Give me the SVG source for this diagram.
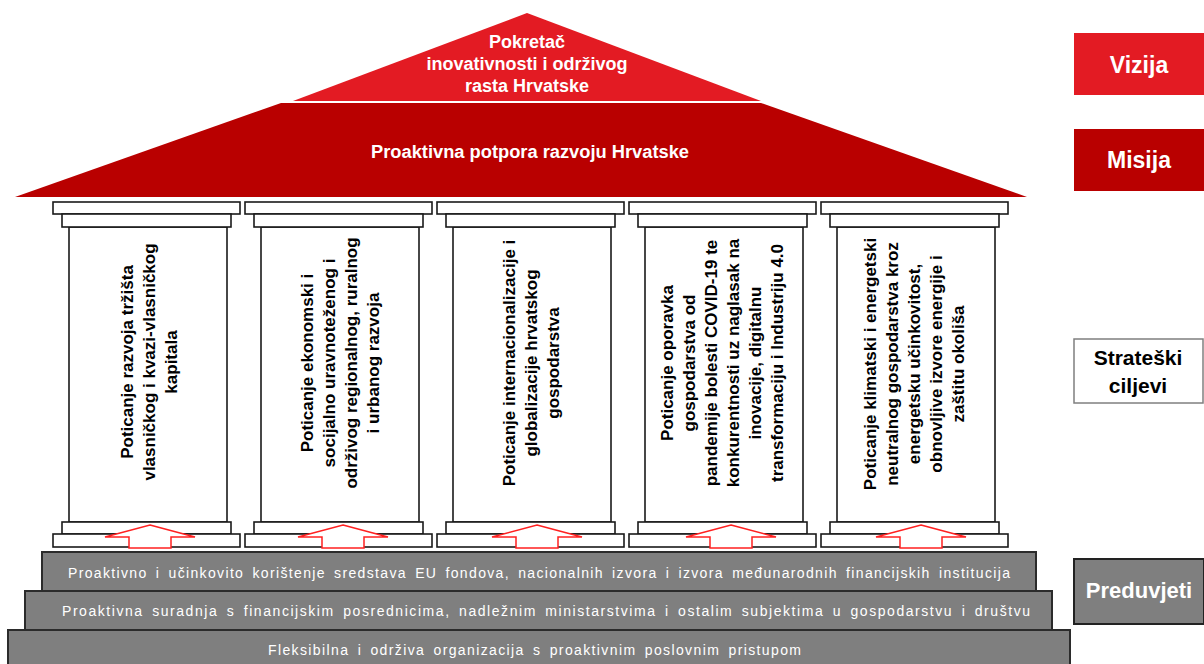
<svg xmlns="http://www.w3.org/2000/svg" width="1204" height="664" viewBox="0 0 1204 664">
<style>
.plate{fill:#fff;stroke:#1a1a1a;stroke-width:1.6}
.arrow{fill:#fff;stroke:#ff2020;stroke-width:1.5;stroke-linejoin:miter}
.ptxt{font-family:"Liberation Sans",Arial,sans-serif;font-weight:bold;font-size:17px;fill:#000;text-anchor:middle}
.wb{font-family:"Liberation Sans",Arial,sans-serif;font-weight:bold;fill:#fff;text-anchor:middle}
.step{fill:#7f7f7f;stroke:#2b2b2b;stroke-width:2}
.stxt{font-family:"Liberation Sans",Arial,sans-serif;font-size:14px;fill:#fff;word-spacing:3px}
</style>
<rect width="1204" height="664" fill="#fff"/>

<g id="roof-vision">
<polygon points="527,13 293,101 761,101" fill="#e31b23"/>
<text class="wb" font-size="18" x="527" y="48">Pokretač</text>
<text class="wb" font-size="18" x="527" y="70">inovativnosti i održivog</text>
<text class="wb" font-size="18" x="527" y="92">rasta Hrvatske</text>
</g>
<g id="roof-mission">
<polygon points="281,103 761,103 1027,197 15,197" fill="#b90000"/>
<text class="wb" font-size="18.3" x="530" y="158">Proaktivna potpora razvoju Hrvatske</text>
</g>

<g id="pillar1">
<rect class="plate" x="69" y="227" width="158" height="295"/>
<rect class="plate" x="53" y="202" width="187" height="12"/>
<rect class="plate" x="62" y="214" width="169" height="13"/>
<rect class="plate" x="62" y="522" width="169" height="12"/>
<rect class="plate" x="53" y="534" width="187" height="13"/>
<text class="ptxt" transform="translate(0,362) rotate(-90)"><tspan x="0" y="133">Poticanje razvoja tržišta</tspan><tspan x="0" y="155">vlasničkog i kvazi-vlasničkog</tspan><tspan x="0" y="177">kapitala</tspan></text>
</g>
<g id="pillar2">
<rect class="plate" x="261" y="227" width="158" height="295"/>
<rect class="plate" x="245" y="202" width="187" height="12"/>
<rect class="plate" x="254" y="214" width="169" height="13"/>
<rect class="plate" x="254" y="522" width="169" height="12"/>
<rect class="plate" x="245" y="534" width="187" height="13"/>
<text class="ptxt" transform="translate(0,363) rotate(-90)"><tspan x="0" y="313">Poticanje ekonomski i</tspan><tspan x="0" y="335">socijalno uravnoteženog i</tspan><tspan x="0" y="357">održivog regionalnog, ruralnog</tspan><tspan x="0" y="379">i urbanog razvoja</tspan></text>
</g>
<g id="pillar3">
<rect class="plate" x="453" y="227" width="158" height="295"/>
<rect class="plate" x="437" y="202" width="187" height="12"/>
<rect class="plate" x="446" y="214" width="169" height="13"/>
<rect class="plate" x="446" y="522" width="169" height="12"/>
<rect class="plate" x="437" y="534" width="187" height="13"/>
<text class="ptxt" transform="translate(0,363) rotate(-90)"><tspan x="0" y="515">Poticanje internacionalizacije i</tspan><tspan x="0" y="537">globalizacije hrvatskog</tspan><tspan x="0" y="559">gospodarstva</tspan></text>
</g>
<g id="pillar4">
<rect class="plate" x="645" y="227" width="158" height="295"/>
<rect class="plate" x="629" y="202" width="187" height="12"/>
<rect class="plate" x="638" y="214" width="169" height="13"/>
<rect class="plate" x="638" y="522" width="169" height="12"/>
<rect class="plate" x="629" y="534" width="187" height="13"/>
<text class="ptxt" transform="translate(0,363) rotate(-90)"><tspan x="0" y="673">Poticanje oporavka</tspan><tspan x="0" y="695">gospodarstva od</tspan><tspan x="0" y="717">pandemije bolesti COVID-19 te</tspan><tspan x="0" y="739">konkurentnosti uz naglasak na</tspan><tspan x="0" y="761">inovacije, digitalnu</tspan><tspan x="0" y="783">transformaciju i Industriju 4.0</tspan></text>
</g>
<g id="pillar5">
<rect class="plate" x="837" y="227" width="158" height="295"/>
<rect class="plate" x="821" y="202" width="187" height="12"/>
<rect class="plate" x="830" y="214" width="169" height="13"/>
<rect class="plate" x="830" y="522" width="169" height="12"/>
<rect class="plate" x="821" y="534" width="187" height="13"/>
<text class="ptxt" transform="translate(0,364) rotate(-90)"><tspan x="0" y="876">Poticanje klimatski i energetski</tspan><tspan x="0" y="898">neutralnog gospodarstva kroz</tspan><tspan x="0" y="920">energetsku učinkovitost,</tspan><tspan x="0" y="942">obnovljive izvore energije i</tspan><tspan x="0" y="964">zaštitu okoliša</tspan></text>
</g>

<g id="connectors">
<path class="arrow" d="M150,525 L195,537 L171,537 L171,548 L129,548 L129,537 L105,537 Z"/>
<path class="arrow" d="M343,525 L388,537 L364,537 L364,548 L322,548 L322,537 L298,537 Z"/>
<path class="arrow" d="M537,525 L582,537 L558,537 L558,548 L516,548 L516,537 L492,537 Z"/>
<path class="arrow" d="M731,525 L776,537 L752,537 L752,548 L710,548 L710,537 L686,537 Z"/>
<path class="arrow" d="M921,525 L966,537 L942,537 L942,548 L900,548 L900,537 L876,537 Z"/>
</g>

<g id="step1">
<rect class="step" x="42" y="552" width="994" height="39"/>
<text class="stxt" x="68" y="578" textLength="942" lengthAdjust="spacing">Proaktivno i učinkovito korištenje sredstava EU fondova, nacionalnih izvora i izvora međunarodnih financijskih institucija</text>
</g>
<g id="step2">
<rect class="step" x="25" y="591" width="1027" height="39"/>
<text class="stxt" x="62" y="616" textLength="968" lengthAdjust="spacing">Proaktivna suradnja s financijskim posrednicima, nadležnim ministarstvima i ostalim subjektima u gospodarstvu i društvu</text>
</g>
<g id="step3">
<rect class="step" x="8" y="630" width="1062" height="40"/>
<text class="stxt" x="268" y="655" textLength="533" lengthAdjust="spacing">Fleksibilna i održiva organizacija s proaktivnim poslovnim pristupom</text>
</g>

<g id="label-vizija">
<rect x="1074" y="33" width="130" height="62" fill="#e31b23"/>
<text class="wb" font-size="23" x="1139" y="73">Vizija</text>
</g>
<g id="label-misija">
<rect x="1074" y="129" width="130" height="62" fill="#b90000"/>
<text class="wb" font-size="23" x="1139" y="168">Misija</text>
</g>
<g id="label-ciljevi">
<rect x="1074" y="339" width="129" height="64" fill="#fff" stroke="#7f7f7f" stroke-width="1.5"/>
<text font-family="Liberation Sans, Arial, sans-serif" font-weight="bold" font-size="21" text-anchor="middle" x="1138" y="365">Strateški</text>
<text font-family="Liberation Sans, Arial, sans-serif" font-weight="bold" font-size="21" text-anchor="middle" x="1138" y="393">ciljevi</text>
</g>
<g id="label-preduvjeti">
<rect x="1074" y="559" width="130" height="65" fill="#7f7f7f" stroke="#222" stroke-width="2"/>
<text class="wb" font-size="22" x="1139" y="598">Preduvjeti</text>
</g>
</svg>
